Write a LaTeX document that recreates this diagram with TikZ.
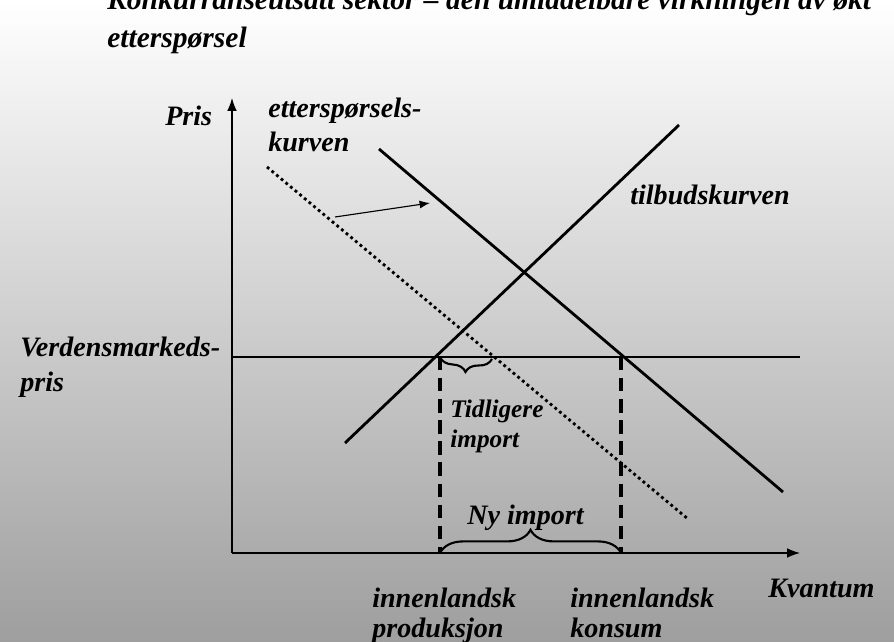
\documentclass[tikz,border=0pt]{standalone}
\usepackage{fontspec}
\setmainfont{Liberation Serif}
\usetikzlibrary{arrows.meta}
\usetikzlibrary{decorations.pathreplacing}

\tikzset{
  lbl/.style={anchor=base west,inner sep=0pt,font=\fontsize{20}{23}\selectfont\bfseries\itshape},
  smalllbl/.style={lbl,font=\fontsize{18}{21}\selectfont\bfseries\itshape},
  titlelbl/.style={lbl,font=\fontsize{21}{24}\selectfont\bfseries\itshape},
  axis/.style={line width=0.9pt,-{Latex[length=3.2mm,width=2.4mm]}},
  curve/.style={line width=2pt},
  shifted/.style={line width=2pt,dash pattern=on 2pt off 2.3pt},
  guide/.style={line width=2.8pt,dash pattern=on 9.5pt off 5.5pt},
  bracket/.style={line width=1.5pt,decorate,decoration={brace,amplitude=#1}}
}

\begin{document}
\begin{tikzpicture}[x=0.025cm,y=-0.025cm]
\useasboundingbox (0,0) rectangle (894,642);
\shade[top color=white,bottom color=black!38] (0,0) rectangle (894,642);

% title, the first line is cut by the page edge
\node[titlelbl] (title1) at (107,10) {Konkurranseutsatt sektor -- den umiddelbare virkningen av økt};
\node[titlelbl] (title2) at (107,48) {etterspørsel};

% axes
\coordinate (O) at (232,553);
\coordinate (ytop) at (232,98);
\coordinate (xend) at (800,553);
\draw[axis] (O) -- (ytop);
\draw[axis] (O) -- (xend);

% world market price
\coordinate (wp0) at (232,357);
\coordinate (wp1) at (800,357);
\draw[line width=1.2pt] (wp0) -- (wp1);

% supply and demand
\coordinate (s0) at (345,443);
\coordinate (s1) at (679,125);
\coordinate (d0) at (379,149);
\coordinate (d1) at (783,492);
\coordinate (e0) at (267,167);
\coordinate (e1) at (688,519);
\draw[curve] (s0) -- (s1);
\draw[curve] (d0) -- (d1);
\draw[shifted] (e0) -- (e1);

% shift of demand
\coordinate (sh0) at (335,217);
\coordinate (sh1) at (430,203);
\draw[line width=0.8pt,-{Latex[length=2.6mm,width=2mm]}] (sh0) -- (sh1);

% production and consumption
\coordinate (p0) at (440,357);
\coordinate (p1) at (440,553);
\coordinate (k0) at (621,357);
\coordinate (k1) at (621,553);
\draw[guide] (p0) -- (p1);
\draw[guide] (k0) -- (k1);

% braces
\coordinate (b0) at (492,359);
\draw[bracket=0.35cm] (b0) -- (p0);
\draw[bracket=0.58cm] (p1) -- (k1);

% labels
\node[lbl] (pris) at (165,126) {Pris};
\node[lbl] (ettl1) at (268,118) {etterspørsels-};
\node[lbl] (ettl2) at (268,152) {kurven};
\node[lbl] (tilb) at (630,205) {tilbudskurven};
\node[lbl] (verd1) at (20,357) {Verdensmarkeds-};
\node[lbl] (verd2) at (20,392) {pris};
\node[smalllbl] (tidl1) at (450,417) {Tidligere};
\node[smalllbl] (tidl2) at (450,447) {import};
\node[lbl] (nyimp) at (467,524) {Ny import};
\node[lbl] (prod1) at (372,607) {innenlandsk};
\node[lbl] (prod2) at (372,637) {produksjon};
\node[lbl] (kons1) at (570,607) {innenlandsk};
\node[lbl] (kons2) at (570,637) {konsum};
\node[lbl] (kvant) at (768,597) {Kvantum};
\end{tikzpicture}
\end{document}
